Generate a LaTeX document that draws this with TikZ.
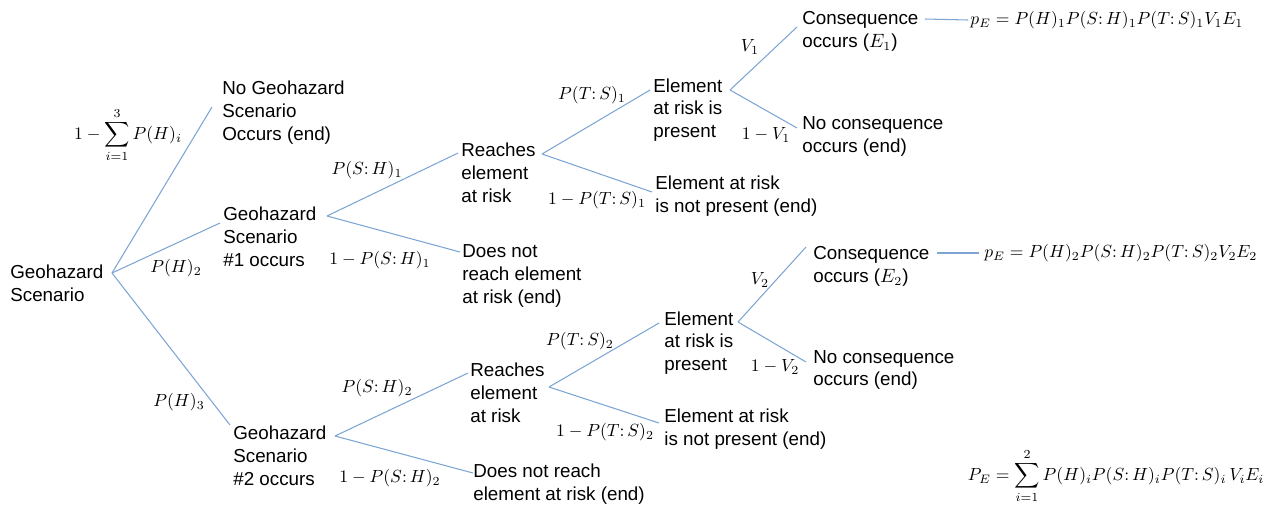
\documentclass[tikz,border=0pt]{standalone}
\usepackage[no-math]{fontspec}
\setmainfont{Liberation Sans}
\usepackage{amsmath}
\definecolor{treeblue}{RGB}{125,165,212}
\newcommand{\cond}{{:}\,}

\begin{document}
\begin{tikzpicture}[x=0.02cm, y=-0.02cm,
    branch/.style={draw=treeblue, line width=0.6pt},
    outcome/.style={anchor=west, align=left, inner sep=0pt, font=\fontsize{10.7}{13}\selectfont},
    prob/.style={inner sep=0pt, font=\fontsize{10.3}{12}\selectfont},
    risk/.style={inner sep=0pt, font=\fontsize{9.7}{12}\selectfont}]
    \useasboundingbox (0,0) rectangle (1266,508);

    % Draw the outcome texts
    \node[outcome] (root) at (10,283.5) {Geohazard\\Scenario};
    \node[outcome] (nogeo) at (222,112.5) {No Geohazard\\Scenario\\Occurs (end)};
    \node[outcome] (geoa) at (223,237) {Geohazard\\Scenario\\\#1 occurs};
    \node[outcome] (geob) at (233,456) {Geohazard\\Scenario\\\#2 occurs};
    \node[outcome] (reacha) at (461,173) {Reaches\\element\\at risk};
    \node[outcome] (noreacha) at (462,276) {Does not\\reach element\\at risk (end)};
    \node[outcome] (reachb) at (470,393) {Reaches\\element\\at risk};
    \node[outcome] (noreachb) at (473,484.5) {Does not reach\\element at risk (end)};
    \node[outcome] (elema) at (653,110) {Element\\at risk is\\present};
    \node[outcome] (noelema) at (655,196) {Element at risk\\is not present (end)};
    \node[outcome] (elemb) at (664,343) {Element\\at risk is\\present};
    \node[outcome] (noelemb) at (664,429) {Element at risk\\is not present (end)};
    \node[outcome] (consa) at (802,31.5) {Consequence\\occurs ($E_1$)};
    \node[outcome] (noconsa) at (802,136.5) {No consequence\\occurs (end)};
    \node[outcome] (consb) at (813,266.5) {Consequence\\occurs ($E_2$)};
    \node[outcome] (noconsb) at (813,370) {No consequence\\occurs (end)};

    % Draw the risk formulas
    \node[risk, anchor=west] (riska) at (970,20) {$p_E=P(H)_1P(S\cond H)_1P(T\cond S)_1V_1E_1$};
    \node[risk, anchor=west] (riskb) at (984,253) {$p_E=P(H)_2P(S\cond H)_2P(T\cond S)_2V_2E_2$};
    \node[risk] (risktotal) at (1116,476) {$P_E=\displaystyle\sum_{i=1}^{2}P(H)_iP(S\cond H)_iP(T\cond S)_i\,V_iE_i$};

    % Branch points and line ends
    \coordinate (root-b) at (112,273);
    \coordinate (nogeo-in) at (212,107);
    \coordinate (geoa-in) at (220,223);
    \coordinate (geob-in) at (230,425);
    \coordinate (geoa-b) at (327,216);
    \coordinate (reacha-in) at (458,153);
    \coordinate (noreacha-in) at (460,252);
    \coordinate (geob-b) at (335,436);
    \coordinate (reachb-in) at (468,373);
    \coordinate (noreachb-in) at (473,473);
    \coordinate (reacha-b) at (542,154);
    \coordinate (elema-in) at (650,90);
    \coordinate (noelema-in) at (652,192);
    \coordinate (reachb-b) at (549,387);
    \coordinate (elemb-in) at (659,323);
    \coordinate (noelemb-in) at (659,423);
    \coordinate (elema-b) at (730,90);
    \coordinate (consa-in) at (797,27);
    \coordinate (noconsa-in) at (797,128);
    \coordinate (elemb-b) at (738,322);
    \coordinate (consb-in) at (806,247);
    \coordinate (noconsb-in) at (806,362);
    \coordinate (consa-out) at (925,19);
    \coordinate (riska-in) at (968,20);
    \coordinate (consb-out) at (937,253);
    \coordinate (riskb-in) at (979,253);

    % Draw the branches
    \foreach \a/\b in {root-b/nogeo-in, root-b/geoa-in, root-b/geob-in,
        geoa-b/reacha-in, geoa-b/noreacha-in, geob-b/reachb-in, geob-b/noreachb-in,
        reacha-b/elema-in, reacha-b/noelema-in, reachb-b/elemb-in, reachb-b/noelemb-in,
        elema-b/consa-in, elema-b/noconsa-in, elemb-b/consb-in, elemb-b/noconsb-in,
        consa-out/riska-in, consb-out/riskb-in} {
        \draw[branch] (\a) -- (\b);
    }

    % Draw the probability labels
    \node[prob] (p-none) at (128,135) {$1-\displaystyle\sum_{i=1}^{3}P(H)_i$};
    \node[prob] (p-h2) at (176,268) {$P(H)_2$};
    \node[prob] (p-h3) at (179,402) {$P(H)_3$};
    \node[prob] (p-sha) at (367,170) {$P(S\cond H)_1$};
    \node[prob] (q-sha) at (380,260) {$1-P(S\cond H)_1$};
    \node[prob] (p-shb) at (377,388) {$P(S\cond H)_2$};
    \node[prob] (q-shb) at (390,478) {$1-P(S\cond H)_2$};
    \node[prob] (p-tsa) at (592,95) {$P(T\cond S)_1$};
    \node[prob] (q-tsa) at (597,200) {$1-P(T\cond S)_1$};
    \node[prob] (p-tsb) at (580,341) {$P(T\cond S)_2$};
    \node[prob] (q-tsb) at (605,432) {$1-P(T\cond S)_2$};
    \node[prob] (p-va) at (750,47) {$V_1$};
    \node[prob] (q-va) at (766,135) {$1-V_1$};
    \node[prob] (p-vb) at (760,280) {$V_2$};
    \node[prob] (q-vb) at (775,367) {$1-V_2$};
\end{tikzpicture}
\end{document}
